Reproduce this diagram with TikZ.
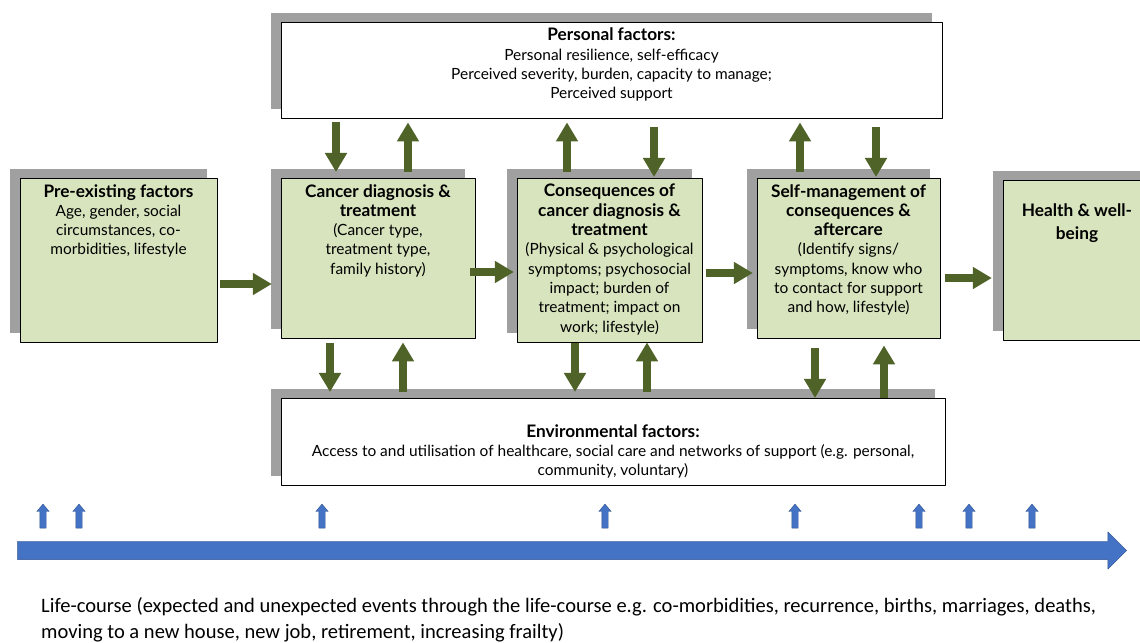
\documentclass[tikz,border=0pt]{standalone}
\usepackage{fontspec}
\setmainfont{Lato}
\newfontfamily\calfont{Carlito}
\usepackage{tikz}
\usetikzlibrary{arrows.meta,shapes.arrows,shadows}
\definecolor{boxgreen}{RGB}{215,228,189}
\definecolor{arrowgreen}{RGB}{79,98,40}
\definecolor{shadowgray}{RGB}{160,160,160}
\definecolor{lifeblue}{RGB}{68,114,196}
\definecolor{lifeedge}{RGB}{47,82,143}
% box text: height, width, top pad, lines
\newcommand{\boxtxt}[4]{\begin{minipage}[c][#1][t]{#2}\centering\vspace*{#3}#4\end{minipage}}
\newcommand{\hd}[1]{{\fontsize{17.3}{19.4}\selectfont\bfseries #1}}

\begin{document}
\begin{tikzpicture}[line join=bevel,
  stage/.style={draw, fill=boxgreen, anchor=north, inner sep=0pt,
    font=\fontsize{15.5}{19.4}\selectfont,
    general shadow={fill=shadowgray, shadow xshift=-10bp, shadow yshift=9bp}},
  factor/.style={stage, fill=white},
  garrow/.style={draw=arrowgreen, line width=8bp, -{Triangle[length=19bp,width=21bp]}},
  event/.style={single arrow, draw=lifeedge, fill=lifeblue, rotate=90, inner sep=3bp,
    minimum height=24bp, minimum width=0pt, single arrow head extend=3bp,
    single arrow tip angle=80},
  ]
\useasboundingbox (0,0) rectangle (1140bp,643bp);
\clip (0,0) rectangle (1140bp,643bp);
%%
\node (pers) at (611.5bp,621bp) [factor] {\boxtxt{96bp}{661bp}{6bp}{\hd{Personal factors:}\\
  Personal resilience, self-efficacy\\Perceived severity, burden, capacity to manage;\\Perceived support}};
\node (pre) at (118.5bp,465bp) [stage] {\boxtxt{164bp}{197bp}{6bp}{\hd{Pre-existing factors}\\
  Age, gender, social\\circumstances, co-\\morbidities, lifestyle}};
\node (cdx) at (378bp,465bp) [stage] {\boxtxt{160bp}{194bp}{6bp}{\hd{Cancer diagnosis \&}\\
  \hd{treatment}\\(Cancer type,\\treatment type,\\family history)}};
\node (csq) at (609.5bp,465bp) [stage] {\boxtxt{164bp}{185bp}{6bp}{\hd{Consequences of}\\
  \hd{cancer diagnosis \&}\\\hd{treatment}\\(Physical \& psychological\\symptoms; psychosocial\\
  impact; burden of\\treatment; impact on\\work; lifestyle)}};
\node (slf) at (848.5bp,465bp) [stage] {\boxtxt{160bp}{183bp}{6bp}{\hd{Self-management of}\\
  \hd{consequences \&}\\\hd{aftercare}\\(Identify signs/\\symptoms, know who\\
  to contact for support\\and how, lifestyle)}};
\node (hlt) at (1077bp,463bp) [stage] {\boxtxt{160bp}{148bp}{23bp}{\hd{Health \& well-}\\[4bp]\hd{being}}};
\node (env) at (613bp,245bp) [factor] {\boxtxt{87bp}{664bp}{26bp}{\hd{Environmental factors:}\\
  Access to and utilisation of healthcare, social care and networks of support (e.g. personal,\\
  community, voluntary)}};
%
\draw [garrow, shorten <=3bp, shorten >=9bp] (pre.east |- 0,359bp) -- (cdx.west |- 0,359bp);
\draw [garrow, shorten <=-5bp, shorten >=3bp] (cdx.east |- 0,371bp) -- (csq.west |- 0,371bp);
\draw [garrow, shorten <=4bp, shorten >=4bp] (csq.east |- 0,370bp) -- (slf.west |- 0,370bp);
\draw [garrow, shorten <=5bp, shorten >=11bp] (slf.east |- 0,365bp) -- (hlt.west |- 0,365bp);
%
\foreach \x/\dst/\a/\b in {336/cdx/4/6, 654/csq/9/1, 876/slf/9/1}
  \draw [garrow, shorten <=\a bp, shorten >=\b bp] (pers.south -| \x bp,0) -- (\dst.north -| \x bp,0);
\foreach \x/\src/\a/\b in {408/cdx/6/4, 567/csq/6/4, 800/slf/6/4}
  \draw [garrow, shorten <=\a bp, shorten >=\b bp] (\src.north -| \x bp,0) -- (pers.south -| \x bp,0);
\foreach \x/\src/\a/\b in {330/cdx/5/6, 575/csq/1/6, 815/slf/10/0}
  \draw [garrow, shorten <=\a bp, shorten >=\b bp] (\src.south -| \x bp,0) -- (env.north -| \x bp,0);
\foreach \x/\dst/\a/\b in {403/cdx/6/4, 647/csq/6/0, 884/slf/0/7}
  \draw [garrow, shorten <=\a bp, shorten >=\b bp] (env.north -| \x bp,0) -- (\dst.south -| \x bp,0);
%
\foreach \x [count=\i] in {43,79,322,605,795,919,969,1032}
  \node (ev\i) at (\x bp,125bp) [event] {};
\node (life) at (567.5bp,92.5bp) [single arrow, draw=lifeedge, fill=lifeblue, inner sep=9bp,
  minimum height=1109bp, minimum width=0pt, single arrow head extend=9.5bp] {};
\node (lifetxt) at (41bp,46bp) [anchor=north west, inner sep=0pt, align=left,
  font=\calfont\fontsize{20.6}{26.5}\selectfont] {Life-course (expected and unexpected events through the life-course e.g. co-morbidities, recurrence, births, marriages, deaths,\\
  moving to a new house, new job, retirement, increasing frailty)};
%
\end{tikzpicture}
\end{document}
